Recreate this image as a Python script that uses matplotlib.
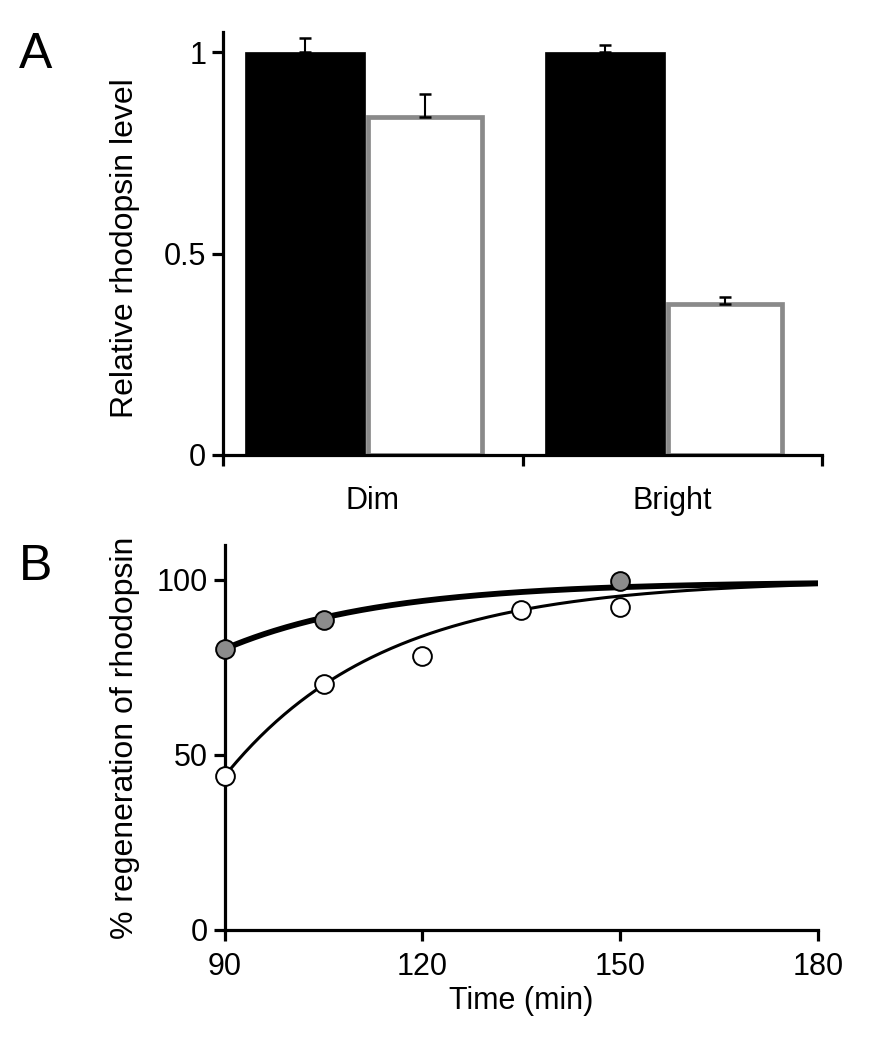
import numpy as np
import matplotlib
matplotlib.use("Agg")
import matplotlib.pyplot as plt

plt.rcParams['font.family'] = ['Liberation Sans', 'DejaVu Sans']

# panel A: relative rhodopsin level
groups = ['Dim', 'Bright']
dark_vals = [1.0, 1.0]
dark_err = [0.036, 0.017]
light_vals = [0.838, 0.375]
light_err = [0.058, 0.016]

# panel B: % regeneration of rhodopsin
t_dark = [90, 105, 150]
y_dark = [80.3, 88.6, 99.6]
t_light = [90, 105, 120, 135, 150]
y_light = [43.9, 70.2, 78.2, 91.3, 92.2]

# exponential recovery fits: plateau, amplitude, tau (min)
fit_dark = (99.5, 19.2, 24.0)
fit_light = (100.0, 56.0, 24.0)

LW = 2.3
FS = 22


def style_axis(ax):
    for s in ['top', 'right']:
        ax.spines[s].set_visible(False)
    for s in ['left', 'bottom']:
        ax.spines[s].set_linewidth(LW)
    ax.tick_params(direction='out', width=LW, length=8, labelsize=FS, pad=4)


def panel_a(ax):
    x = np.arange(len(groups))
    ax.bar(x + 0.275, dark_vals, 0.4, color='black', edgecolor='black', linewidth=0.5)
    ax.bar(x + 0.675, light_vals, 0.38, color='white', edgecolor='#8a8a8a', linewidth=3.4)
    ax.errorbar(x + 0.275, dark_vals, yerr=[[0, 0], dark_err], fmt='none',
                ecolor='black', elinewidth=1.5, capsize=4, capthick=1.8)
    ax.errorbar(x + 0.675, light_vals, yerr=[[0, 0], light_err], fmt='none',
                ecolor='black', elinewidth=1.5, capsize=4, capthick=1.8)
    style_axis(ax)
    ax.set_xlim(0, 2)
    ax.set_ylim(0, 1.05)
    ax.set_xticks([0, 1, 2])
    ax.set_xticklabels([])
    ax.set_xticks([0.5, 1.5], minor=True)
    ax.set_xticklabels(groups, minor=True)
    ax.tick_params(axis='x', which='minor', length=0, pad=22, labelsize=FS)
    ax.set_yticks([0, 0.5, 1])
    ax.set_yticklabels(['0', '0.5', '1'])
    ax.set_ylabel('Relative rhodopsin level', fontsize=23)
    ax.yaxis.set_label_coords(-0.139, 0.49)


def panel_b(ax):
    tt = np.linspace(90, 180, 300)
    p, a, tau = fit_dark
    ax.plot(tt, p - a * np.exp(-(tt - 90) / tau), color='black', lw=4.2, zorder=2)
    p, a, tau = fit_light
    ax.plot(tt, p - a * np.exp(-(tt - 90) / tau), color='black', lw=2.2, zorder=2)
    ax.plot(t_light, y_light, 'o', ms=13.5, mfc='white', mec='black', mew=1.4,
            clip_on=False, zorder=4)
    ax.plot(t_dark, y_dark, 'o', ms=13.5, mfc='#8c8c8c', mec='black', mew=1.4,
            clip_on=False, zorder=4)
    style_axis(ax)
    ax.tick_params(axis='x', pad=8)
    ax.set_xlim(90, 180)
    ax.set_ylim(0, 110)
    ax.set_xticks([90, 120, 150, 180])
    ax.set_yticks([0, 50, 100])
    ax.set_xlabel('Time (min)', fontsize=FS, labelpad=3)
    ax.set_ylabel('% regeneration of rhodopsin', fontsize=23)
    ax.yaxis.set_label_coords(-0.143, 0.5)


if __name__ == "__main__":
    fig = plt.figure(figsize=(8.71, 10.5), dpi=100)
    ax_a = fig.add_axes([0.256, 0.5667, 0.688, 0.4028])
    ax_b = fig.add_axes([0.258, 0.1143, 0.681, 0.3667])
    panel_a(ax_a)
    panel_b(ax_b)
    fig.text(0.022, 0.970, 'A', fontsize=36, va='top', ha='left')
    fig.text(0.022, 0.482, 'B', fontsize=36, va='top', ha='left')
    fig.savefig('out.png', dpi=100)
